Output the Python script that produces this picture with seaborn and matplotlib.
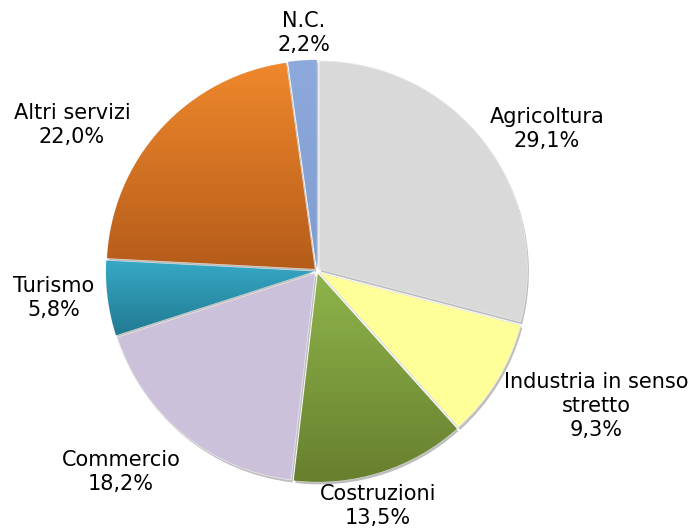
import numpy as np
import seaborn as sns
import matplotlib.pyplot as plt
from matplotlib.colors import LinearSegmentedColormap

sns.set_theme(style="white")
plt.rcParams['font.family'] = ['DejaVu Sans']

# dati: settori e quote percentuali
settori = ['Agricoltura', 'Industria in senso\nstretto', 'Costruzioni', 'Commercio',
           'Turismo', 'Altri servizi', 'N.C.']
quote = [29.1, 9.3, 13.5, 18.2, 5.8, 22.0, 2.2]
etichette_pct = ['29,1%', '9,3%', '13,5%', '18,2%', '5,8%', '22,0%', '2,2%']

# colori (alto, basso) per il gradiente di ogni spicchio
colori = [('#d9d9d9', '#d9d9d9'),
          ('#ffff99', '#ffff99'),
          ('#8fb44b', '#677f2e'),
          ('#ccc1da', '#ccc1da'),
          ('#36a9c6', '#227a92'),
          ('#f0882c', '#b55c1a'),
          ('#8eaadc', '#7f9cd0')]

# posizione delle etichette (pixel dell'immagine)
pos_etichette = [(547, 129), (596, 406), (378, 506), (121, 472),
                 (54, 298), (72, 125), (304, 33)]

W, H = 696, 532
cx, cy, r = 317, H - 271, 208

fig = plt.figure(figsize=(W / 100, H / 100), dpi=100)
ax = fig.add_axes([0, 0, 1, 1])
ax.set_xlim(0, W)
ax.set_ylim(0, H)
ax.set_aspect('equal')
ax.axis('off')

# distacco degli spicchi (unita' dati = pixel)
esplodi = [3.0] * len(quote)

# ombra
ax.pie(quote, startangle=90, counterclock=False, radius=r,
       center=(cx + 1.5, cy - 2.5), explode=esplodi,
       colors=['#bdbdbd'] * len(quote), wedgeprops=dict(linewidth=0))

wedges, _ = ax.pie(quote, startangle=90, counterclock=False, radius=r,
                   center=(cx, cy), explode=esplodi,
                   colors=[c[0] for c in colori],
                   wedgeprops=dict(linewidth=0.6, edgecolor='#e6e6e6'))

# gradiente verticale dentro ogni spicchio
for w, (c_alto, c_basso) in zip(wedges, colori):
    if c_alto == c_basso:
        continue
    bb = w.get_path().get_extents()
    cmap = LinearSegmentedColormap.from_list('g', [c_basso, c_alto])
    grad = np.linspace(0, 1, 256).reshape(-1, 1)
    im = ax.imshow(grad, cmap=cmap, origin='lower', aspect='auto',
                   extent=[bb.x0, bb.x1, bb.y0, bb.y1], zorder=w.get_zorder())
    im.set_clip_path(w)
ax.set_xlim(0, W)
ax.set_ylim(0, H)

for nome, pct, (x, y) in zip(settori, etichette_pct, pos_etichette):
    ax.text(x, H - y, nome + '\n' + pct, ha='center', va='center',
            fontsize=15, color='#000000', linespacing=1.27)

fig.savefig('out.png', dpi=100)
